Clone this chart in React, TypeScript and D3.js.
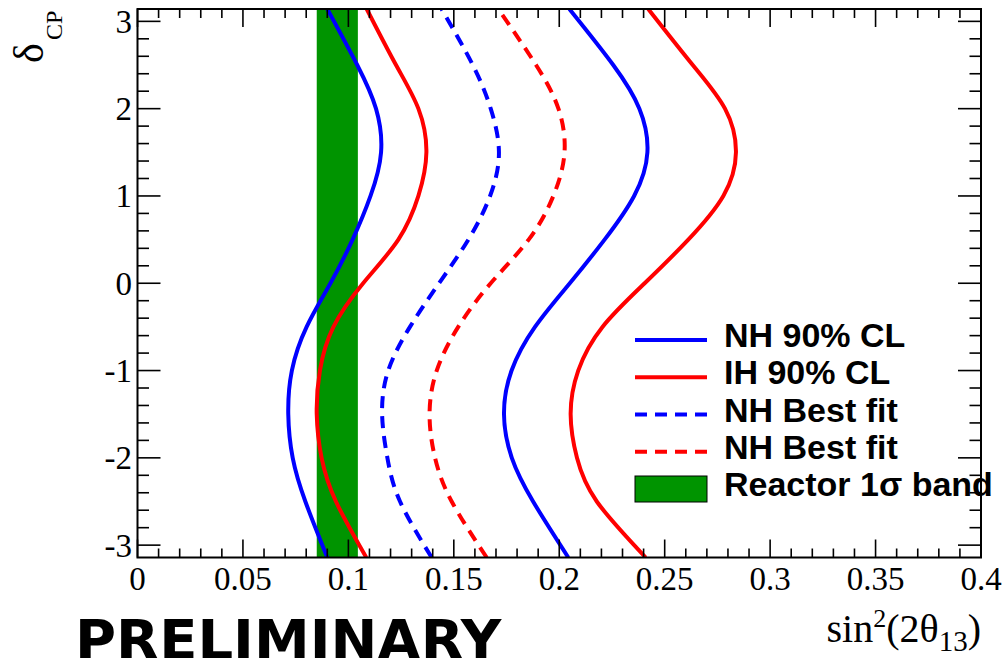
import React, { useRef, useEffect } from "react";
import * as d3 from "d3";

// delta_CP sampling points (y) and sin^2(2theta13) values (x)
const deltaCP = [-Math.PI, -2.5, -2, -1.5, -1, -0.5, 0, 0.5, 1, 1.5, 2, 2.5, Math.PI];
const nh90Inner = [0.09, 0.0796, 0.0736, 0.0715, 0.0732, 0.0802, 0.0915, 0.102, 0.1105, 0.1155, 0.1131, 0.1042, 0.09];
const ih90Inner = [0.1085, 0.0941, 0.0873, 0.085, 0.0865, 0.0929, 0.107, 0.1237, 0.1332, 0.137, 0.1332, 0.1226, 0.1087];
const nhBestBlue = [0.1395, 0.1245, 0.1185, 0.116, 0.1189, 0.1292, 0.143, 0.1569, 0.1672, 0.1714, 0.1675, 0.159, 0.1442];
const nhBestRed = [0.1656, 0.149, 0.1411, 0.1385, 0.1419, 0.1521, 0.1675, 0.1855, 0.1972, 0.2025, 0.1996, 0.189, 0.1711];
const nh90Outer = [0.2043, 0.1876, 0.1775, 0.1738, 0.1774, 0.1885, 0.205, 0.2215, 0.2355, 0.2418, 0.238, 0.2256, 0.2048];
const ih90Outer = [0.241, 0.2178, 0.2084, 0.2054, 0.209, 0.2205, 0.2405, 0.2612, 0.2778, 0.2838, 0.2786, 0.2633, 0.2422];

const reactorBand = [0.085, 0.1045];

const legendLabels = ["NH 90% CL", "IH 90% CL", "NH Best fit", "NH Best fit", "Reactor 1\u03c3 band"];

const BLUE = "#0000ff";
const RED = "#ff0000";
const GREEN = "#009400";

const App = () => {
  const svgRef = useRef<SVGSVGElement>(null);

  useEffect(() => {
    const svg = d3.select(svgRef.current);
    svg.selectAll("*").remove();

    const left = 137.5, right = 981, top = 9, bottom = 557.5;

    const x = d3.scaleLinear().domain([0, 0.4]).range([left, right]);
    const y = d3.scaleLinear().domain([-Math.PI, Math.PI]).range([bottom, top]);

    svg
      .append("defs")
      .append("clipPath")
      .attr("id", "frame-clip")
      .append("rect")
      .attr("x", left)
      .attr("y", top)
      .attr("width", right - left)
      .attr("height", bottom - top);

    const plot = svg.append("g").attr("clip-path", "url(#frame-clip)");

    // reactor band
    plot
      .append("rect")
      .attr("x", x(reactorBand[0]))
      .attr("y", top)
      .attr("width", x(reactorBand[1]) - x(reactorBand[0]))
      .attr("height", bottom - top)
      .attr("fill", GREEN);

    const curves = [
      { values: nh90Inner, color: BLUE, dash: null },
      { values: ih90Inner, color: RED, dash: null },
      { values: nhBestBlue, color: BLUE, dash: "12,8" },
      { values: nhBestRed, color: RED, dash: "12,8" },
      { values: nh90Outer, color: BLUE, dash: null },
      { values: ih90Outer, color: RED, dash: null },
    ];

    const line = d3
      .line<number>()
      .x((d) => x(d))
      .y((d, i) => y(deltaCP[i]))
      .curve(d3.curveNatural);

    curves.forEach((c) => {
      plot
        .append("path")
        .datum(c.values)
        .attr("fill", "none")
        .attr("stroke", c.color)
        .attr("stroke-width", 4)
        .attr("stroke-dasharray", c.dash)
        .attr("d", line);
    });

    // frame + ticks on all four sides
    const axes = svg.append("g").attr("stroke", "black").attr("stroke-width", 1.6);
    axes
      .append("rect")
      .attr("x", left)
      .attr("y", top)
      .attr("width", right - left)
      .attr("height", bottom - top)
      .attr("fill", "none")
      .attr("stroke-width", 2);

    const xMajor = x.ticks(8);
    const xMinor = d3.range(0, 0.4001, 0.01);
    const yMajor = d3.range(-3, 3.5, 1);
    const yMinor = d3.range(-3, 3.01, 0.2);

    xMinor.forEach((v) => {
      const isMajor = xMajor.some((m) => Math.abs(m - v) < 1e-6);
      const len = isMajor ? 18 : 9;
      axes.append("line").attr("x1", x(v)).attr("x2", x(v)).attr("y1", bottom).attr("y2", bottom - len);
      axes.append("line").attr("x1", x(v)).attr("x2", x(v)).attr("y1", top).attr("y2", top + len);
    });

    yMinor.forEach((v) => {
      const isMajor = yMajor.some((m) => Math.abs(m - v) < 1e-6);
      const len = isMajor ? 23 : 11.5;
      axes.append("line").attr("x1", left).attr("x2", left + len).attr("y1", y(v)).attr("y2", y(v));
      axes.append("line").attr("x1", right).attr("x2", right - len).attr("y1", y(v)).attr("y2", y(v));
    });

    const serif = "'Liberation Serif', 'Times New Roman', serif";

    svg
      .append("g")
      .selectAll("text")
      .data(xMajor)
      .join("text")
      .attr("x", (d) => x(d))
      .attr("y", 590)
      .attr("text-anchor", "middle")
      .style("font-family", serif)
      .style("font-size", "33px")
      .text((d) => d3.format("~g")(d));

    svg
      .append("g")
      .selectAll("text")
      .data(yMajor)
      .join("text")
      .attr("x", 132)
      .attr("y", (d) => y(d) + 11.5)
      .attr("text-anchor", "end")
      .style("font-family", serif)
      .style("font-size", "33px")
      .text((d) => String(d));

    // x axis title
    const xTitle = svg
      .append("text")
      .attr("x", 981)
      .attr("y", 642)
      .attr("text-anchor", "end")
      .style("font-family", serif)
      .style("font-size", "40px");
    xTitle.append("tspan").text("sin");
    xTitle.append("tspan").attr("dy", -15).style("font-size", "26px").text("2");
    xTitle.append("tspan").attr("dy", 15).text("(2\u03b8");
    xTitle.append("tspan").attr("dy", 9).style("font-size", "29px").text("13");
    xTitle.append("tspan").attr("dy", -9).text(")");

    // y axis title
    svg
      .append("text")
      .attr("transform", "translate(43, 63) rotate(-90)")
      .style("font-family", serif)
      .style("font-size", "42px")
      .text("\u03b4");
    svg
      .append("text")
      .attr("transform", "translate(62, 40) rotate(-90)")
      .style("font-family", serif)
      .style("font-size", "24px")
      .text("CP");

    // legend
    const sans = "'Liberation Sans', Arial, Helvetica, sans-serif";
    const legendY = d3.scaleLinear().domain([0, 4]).range([340, 489]);
    const legendStyles = [
      { color: BLUE, dash: null },
      { color: RED, dash: null },
      { color: BLUE, dash: "12,8" },
      { color: RED, dash: "12,8" },
    ];
    const legend = svg.append("g");
    legendLabels.forEach((label, i) => {
      const ly = legendY(i);
      if (i < 4) {
        legend
          .append("line")
          .attr("x1", 635)
          .attr("x2", 707)
          .attr("y1", ly)
          .attr("y2", ly)
          .attr("stroke", legendStyles[i].color)
          .attr("stroke-width", 4)
          .attr("stroke-dasharray", legendStyles[i].dash);
      } else {
        legend
          .append("rect")
          .attr("x", 635)
          .attr("y", ly - 13)
          .attr("width", 72)
          .attr("height", 26)
          .attr("fill", GREEN)
          .attr("stroke", "black")
          .attr("stroke-width", 1);
      }
      legend
        .append("text")
        .attr("x", 724)
        .attr("y", ly + 7)
        .style("font-family", sans)
        .style("font-weight", "bold")
        .style("font-size", "34px")
        .text(label);
    });

    svg
      .append("text")
      .attr("x", 75)
      .attr("y", 659)
      .style("font-family", "'DejaVu Sans', Verdana, sans-serif")
      .style("font-weight", "bold")
      .style("font-size", "56px")
      .text("PRELIMINARY");
  }, []);

  return (
    <svg
      ref={svgRef}
      width={1008}
      height={658}
      style={{ position: "absolute", left: 0, top: 0, background: "white" }}
    ></svg>
  );
};

export default App;
